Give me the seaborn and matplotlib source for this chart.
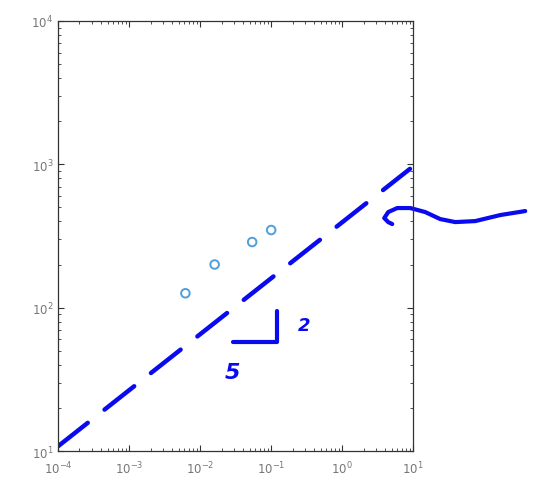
import numpy as np
import matplotlib
matplotlib.use("Agg")
import matplotlib.pyplot as plt
import seaborn as sns

# measured points
x_pts = [0.0062, 0.016, 0.054, 0.10]
y_pts = [126, 200, 287, 348]

# hand-drawn slope line (ends)
line_x = [1e-4, 9.0]
line_y = [10.8, 930]

# hand-drawn slope triangle (log10 coords)
tri_lx = [-1.535, -0.915, -0.915]
tri_ly = [1.760, 1.760, 1.976]

# hand-drawn wavy arrow (log10 coords)
arrow_lx = [2.577, 2.225, 1.873, 1.592, 1.380, 1.169, 0.958, 0.775, 0.648, 0.592, 0.648, 0.704]
arrow_ly = [2.674, 2.646, 2.604, 2.597, 2.618, 2.667, 2.695, 2.695, 2.667, 2.625, 2.597, 2.583]

sns.set_style("ticks")
plt.rcParams["font.family"] = ["DejaVu Sans"]

fig = plt.figure(figsize=(5.43, 5.02), dpi=100)
ax = fig.add_axes([0.107, 0.0996, 0.654, 0.8566])

blue = "#0a0aee"
ax.plot(line_x, line_y, color=blue, lw=3.2, dashes=(8.5, 4.8), solid_capstyle="round",
        dash_capstyle="round")
sns.scatterplot(x=x_pts, y=y_pts, ax=ax, marker="o", s=38, facecolors="none",
                edgecolor="#4f9fdc", linewidth=1.4, zorder=3)

ax.set_xscale("log")
ax.set_yscale("log")
ax.set_xlim(1e-4, 10)
ax.set_ylim(10, 1e4)

ax.plot(10 ** np.array(tri_lx), 10 ** np.array(tri_ly), color=blue, lw=3,
        solid_capstyle="round", solid_joinstyle="round", clip_on=False)
ax.plot(10 ** np.array(arrow_lx), 10 ** np.array(arrow_ly), color=blue, lw=3,
        solid_capstyle="round", solid_joinstyle="round", clip_on=False)
ax.text(10 ** -0.53, 10 ** 1.88, "2", color=blue, fontsize=13, fontweight="bold",
        style="italic", ha="center", va="center", clip_on=False)
ax.text(10 ** -1.55, 10 ** 1.55, "5", color=blue, fontsize=16, fontweight="bold",
        style="italic", ha="center", va="center", clip_on=False)

for s in ax.spines.values():
    s.set_visible(True)
    s.set_color("#333333")
    s.set_linewidth(0.9)
ax.tick_params(which="both", direction="in", top=True, right=True, colors="#333333",
               labelcolor="#777777", labelsize=8.5)
ax.tick_params(which="major", length=4)
ax.tick_params(axis="x", which="major", pad=6)
ax.tick_params(which="minor", length=2)

plt.savefig("out.png", dpi=100)
